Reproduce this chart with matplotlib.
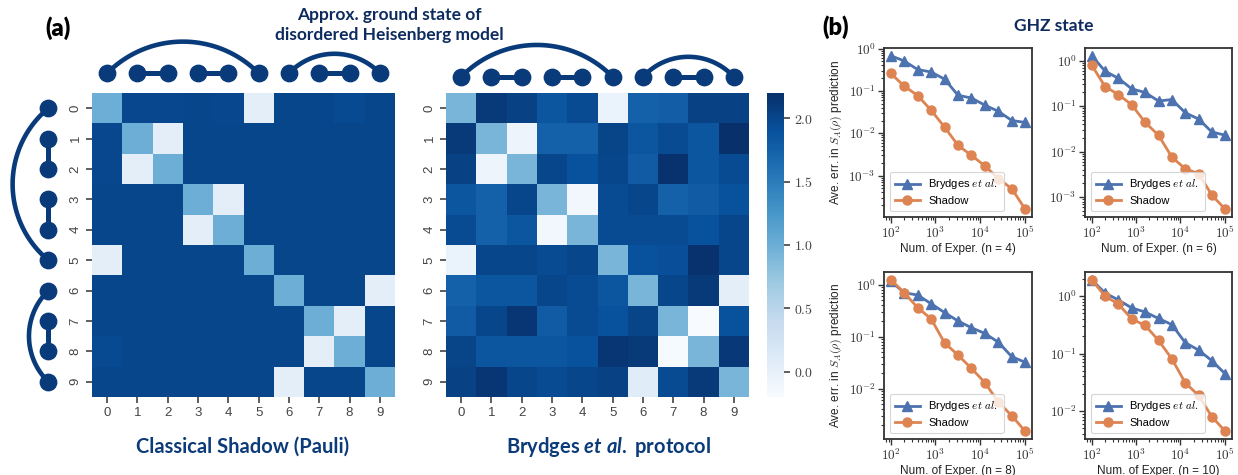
import numpy as np
import matplotlib.pyplot as plt
import seaborn as sns
from matplotlib.ticker import FuncFormatter, LogLocator

plt.rcParams['font.family'] = ['Liberation Sans', 'DejaVu Sans']
plt.rcParams['mathtext.fontset'] = 'cm'
# used only by texts that ask for math_fontfamily='custom'
plt.rcParams['mathtext.it'] = 'Lato:italic:bold'
plt.rcParams['mathtext.rm'] = 'Lato:bold'

# ---------------- data ----------------
qubits = list(range(10))

# Renyi entropy of two-qubit subsystems, classical shadow (Pauli)
shadow_S = np.array([
    [1.00, 1.99, 1.99, 2.00, 1.99, 0.04, 2.00, 2.00, 1.96, 2.00],
    [1.99, 1.00, 0.04, 2.00, 2.00, 2.00, 2.00, 2.00, 2.00, 2.00],
    [1.99, 0.04, 1.00, 2.00, 2.00, 2.00, 2.00, 2.00, 2.00, 2.00],
    [2.00, 2.00, 2.00, 1.00, 0.04, 2.00, 2.00, 2.00, 2.00, 2.00],
    [2.00, 2.00, 2.00, 0.04, 1.00, 2.00, 2.00, 2.00, 2.00, 2.00],
    [0.04, 2.00, 2.00, 2.00, 2.00, 1.00, 2.00, 2.00, 2.00, 2.00],
    [2.00, 2.00, 2.00, 2.00, 2.00, 2.00, 1.00, 2.00, 2.00, 0.04],
    [2.00, 2.00, 2.00, 2.00, 2.00, 2.00, 2.00, 1.00, 0.04, 2.00],
    [1.96, 2.00, 2.00, 2.00, 2.00, 2.00, 2.00, 0.04, 1.00, 2.00],
    [2.00, 2.00, 2.00, 2.00, 2.00, 2.00, 0.04, 2.00, 2.00, 1.00],
])

# same quantity, Brydges et al. protocol
brydges_S = np.array([
    [0.92, 2.10, 2.05, 1.85, 1.95, -0.05, 1.75, 1.78, 2.05, 2.05],
    [2.10, 0.92, -0.07, 1.75, 1.75, 2.02, 1.85, 1.95, 1.85, 2.20],
    [2.05, -0.07, 0.92, 2.00, 1.90, 2.00, 1.80, 2.18, 1.85, 1.95],
    [1.85, 1.75, 2.00, 0.92, -0.12, 1.95, 2.00, 1.75, 1.80, 1.90],
    [1.95, 1.75, 1.85, -0.12, 0.92, 1.95, 1.95, 1.95, 1.90, 2.00],
    [-0.05, 2.00, 2.00, 1.95, 2.00, 0.92, 1.90, 1.92, 2.18, 2.00],
    [1.75, 1.85, 1.85, 2.00, 1.95, 1.85, 0.92, 2.00, 2.10, 0.05],
    [1.80, 2.00, 2.15, 1.80, 1.95, 1.90, 2.02, 0.92, -0.20, 1.90],
    [2.02, 1.85, 1.85, 1.85, 1.90, 2.15, 2.10, -0.18, 0.92, 2.12],
    [2.05, 2.15, 2.00, 1.95, 2.00, 2.05, 0.08, 1.95, 2.10, 0.92],
])

# couplings of the disordered Heisenberg chain
short_pairs = [(1, 2), (3, 4), (7, 8)]
long_pairs = [(0, 5), (6, 9)]

n_exper = [100, 200, 400, 800, 1600, 3200, 6400, 12800, 25600, 51200, 102400]
system_sizes = [4, 6, 8, 10]

brydges_n4 = [0.68, 0.51, 0.32, 0.28, 0.19, 0.079, 0.068, 0.046, 0.033, 0.020, 0.018]
shadow_n4 = [0.26, 0.13, 0.078, 0.035, 0.014, 0.0052, 0.0030, 0.0017, 0.00085, 0.00049, 0.00016]
brydges_n6 = [1.29, 0.59, 0.41, 0.24, 0.20, 0.13, 0.14, 0.072, 0.052, 0.027, 0.023]
shadow_n6 = [0.80, 0.27, 0.18, 0.107, 0.044, 0.023, 0.0076, 0.0042, 0.0033, 0.0011, 0.00054]
brydges_n8 = [1.16, 0.70, 0.63, 0.43, 0.29, 0.20, 0.148, 0.115, 0.078, 0.041, 0.032]
shadow_n8 = [1.25, 0.70, 0.36, 0.22, 0.076, 0.044, 0.0245, 0.013, 0.0055, 0.0030, 0.0015]
brydges_n10 = [1.93, 1.14, 0.86, 0.625, 0.53, 0.41, 0.32, 0.155, 0.115, 0.075, 0.044]
shadow_n10 = [1.95, 1.00, 0.73, 0.40, 0.31, 0.17, 0.081, 0.031, 0.0186, 0.0079, 0.0044]

NAVY = '#093a7a'
TITLE_TOP = '#0d2b5e'
TITLE_BOT = '#0c3b7a'
BLUE = '#4c72b0'
ORANGE = '#dd8452'

W, H = 1238, 475
fig = plt.figure(figsize=(W / 100, H / 100), dpi=100)


def px_axes(l, t, r, b):
    return fig.add_axes([l / W, 1 - b / H, (r - l) / W, (b - t) / H])


def arc_points(a, b, sag, npts=60):
    # circular arc between qubit a and b, returns (along, height)
    c = b - a
    R = (c ** 2 / 4 + sag ** 2) / (2 * sag)
    phi = np.arcsin((c / 2) / R)
    th = np.linspace(-phi, phi, npts)
    return (a + b) / 2 + 0.5 + R * np.sin(th), R * np.cos(th) - (R - sag)


def draw_chain(ax, side, offset, sags):
    kw = dict(color=NAVY, clip_on=False, solid_capstyle='round')
    for (a, b), s in zip(long_pairs, sags):
        u, h = arc_points(a, b, s)
        if side == 'top':
            ax.plot(u, -offset - h, lw=3.3, **kw)
        else:
            ax.plot(-offset - h, u, lw=3.3, **kw)
    for a, b in short_pairs:
        u = [a + 0.5, b + 0.5]
        v = [-offset, -offset]
        if side == 'top':
            ax.plot(u, v, lw=3.6, **kw)
        else:
            ax.plot(v, u, lw=3.6, **kw)
    pos = [q + 0.5 for q in qubits]
    off = [-offset] * len(qubits)
    if side == 'top':
        ax.plot(pos, off, 'o', ms=11.8, color=NAVY, clip_on=False, zorder=5)
    else:
        ax.plot(off, pos, 'o', ms=11.8, color=NAVY, clip_on=False, zorder=5)


# ---------------- panel (a) ----------------
ax_cs = px_axes(92, 93, 395, 397)
ax_br = px_axes(446, 93, 749, 397)
cax = px_axes(767, 93, 784, 397)

vmin, vmax = brydges_S.min(), brydges_S.max()
sns.heatmap(shadow_S, ax=ax_cs, cmap='Blues', vmin=vmin, vmax=vmax, cbar=False,
            xticklabels=qubits, yticklabels=qubits)
sns.heatmap(brydges_S, ax=ax_br, cmap='Blues', vmin=vmin, vmax=vmax, cbar_ax=cax,
            xticklabels=qubits, yticklabels=qubits)

for ax in (ax_cs, ax_br):
    ax.tick_params(length=4.5, width=1.1, color='#333333', labelsize=9.5,
                   labelcolor='#444444', pad=3)
    plt.setp(ax.get_yticklabels(), rotation=90, va='center')
    plt.setp(ax.get_xticklabels(), rotation=0)

cax.set_yticks([0, 0.5, 1.0, 1.5, 2.0])
cax.yaxis.set_major_formatter(FuncFormatter(lambda v, p: r'$%.1f$' % v))
cax.tick_params(length=4, width=1.1, color='#333333', labelsize=10, labelcolor='#444444')

draw_chain(ax_cs, 'top', 0.65, [1.04, 0.64])
draw_chain(ax_cs, 'left', 1.44, [1.18, 0.64])
draw_chain(ax_br, 'top', 0.53, [1.05, 0.66])

fig.text(58 / W, 1 - 28 / H, '(a)', family='Lato', weight='heavy', fontsize=17,
         ha='center', va='center')
fig.text(389 / W, 1 - 25 / H, 'Approx. ground state of\ndisordered Heisenberg model',
         family='Lato', weight='bold', fontsize=12.5, color=TITLE_TOP,
         ha='center', va='center', linespacing=1.25)
fig.text(243 / W, 1 - 447 / H, 'Classical Shadow (Pauli)', family='Lato',
         weight='bold', fontsize=14.5, color=TITLE_BOT, ha='center', va='center')
fig.text(609 / W, 1 - 447 / H, r'Brydges $\mathit{et\ al.}$ protocol', family='Lato',
         weight='bold', fontsize=14.5, color=TITLE_BOT, ha='center', va='center',
         math_fontfamily='custom')

# ---------------- panel (b) ----------------
exp_axes = [px_axes(884, 48, 1032, 217), px_axes(1085, 48, 1232, 217),
            px_axes(884, 272, 1032, 439), px_axes(1085, 272, 1232, 439)]
brydges_err = [brydges_n4, brydges_n6, brydges_n8, brydges_n10]
shadow_err = [shadow_n4, shadow_n6, shadow_n8, shadow_n10]

decade = FuncFormatter(lambda v, p: r'$10^{%d}$' % round(np.log10(v)))
for i, ax in enumerate(exp_axes):
    ax.plot(n_exper, brydges_err[i], marker='^', color=BLUE, lw=2, ms=6.5,
            label=r'Brydges $et\ al.$')
    ax.plot(n_exper, shadow_err[i], marker='o', color=ORANGE, lw=2, ms=6.5,
            label='Shadow')
    ax.set_xscale('log')
    ax.set_yscale('log')
    for axis in (ax.xaxis, ax.yaxis):
        axis.set_major_locator(LogLocator(base=10, numticks=12))
        axis.set_minor_locator(LogLocator(base=10, subs=np.arange(2, 10), numticks=12))
        axis.set_major_formatter(decade)
    for s in ax.spines.values():
        s.set_color('#333333')
        s.set_linewidth(1.3)
    ax.tick_params(which='major', length=4, width=1, color='#333333',
                   labelsize=9.5, labelcolor='#333333', pad=2)
    ax.tick_params(which='minor', length=2.2, width=0.8, color='#333333')
    ax.set_xlabel('Num. of Exper. (n = %d)' % system_sizes[i], fontsize=8.5,
                  color='#222222', labelpad=1)
    if i % 2 == 0:
        ax.set_ylabel(r'Ave. err. in $S_A(\rho)$ prediction', fontsize=8.5,
                      color='#222222', labelpad=3)
    leg = ax.legend(loc='lower left', fontsize=8, frameon=True, borderaxespad=0.5,
                    handlelength=2.2, borderpad=0.5, labelspacing=0.4)
    leg.get_frame().set_edgecolor('#cccccc')
    leg.get_frame().set_linewidth(0.8)

fig.text(836 / W, 1 - 27 / H, '(b)', family='Lato', weight='heavy', fontsize=17,
         ha='center', va='center')
fig.text(1054 / W, 1 - 26 / H, 'GHZ state', family='Lato', weight='bold',
         fontsize=12.5, color=TITLE_TOP, ha='center', va='center')

fig.savefig('out.png', dpi=100)
